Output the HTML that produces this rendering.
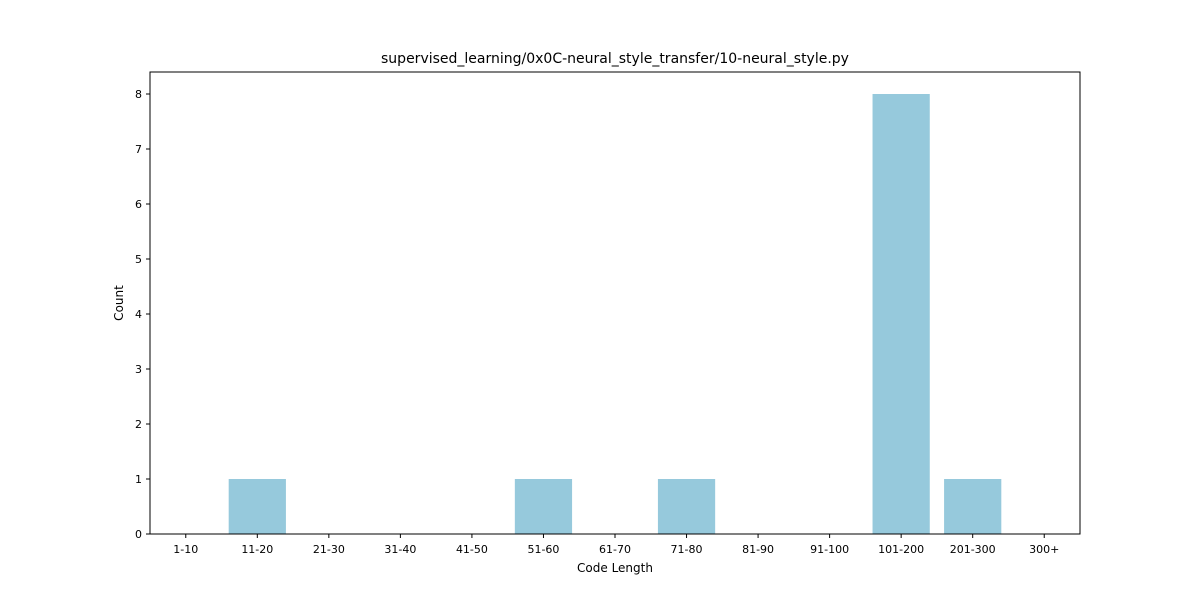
<!DOCTYPE html>
<html><head><meta charset="utf-8"><style>body{margin:0;background:#fff}svg{display:block}text{font-family:"DejaVu Sans","Liberation Sans",sans-serif;fill:#000}</style></head>
<body>
<svg id="chart" width="1200" height="600">
<text x="615" y="63" font-size="14" text-anchor="middle">supervised_learning/0x0C-neural_style_transfer/10-neural_style.py</text>
<g id="bars"></g>
<rect x="150" y="72" width="930" height="462" fill="none" stroke="#000" stroke-width="1"/>
<g id="xticks"></g><g id="yticks"></g>
<text x="615" y="572" font-size="12" text-anchor="middle">Code Length</text>
<text transform="translate(123,303) rotate(-90)" font-size="12" text-anchor="middle">Count</text>
</svg>
<script>
const categories=["1-10","11-20","21-30","31-40","41-50","51-60","61-70","71-80","81-90","91-100","101-200","201-300","300+"];
const counts=[0,1,0,0,0,1,0,1,0,0,8,1,0];
const yTicks=[0,1,2,3,4,5,6,7,8];
const L=150,R=1080,T=72,B=534,ymax=8.4;
const ns="http://www.w3.org/2000/svg";
const step=(R-L)/categories.length;
const x=i=>L+(i+0.5)*step;
const y=v=>B-v/ymax*(B-T);
function mk(t,a,p){const e=document.createElementNS(ns,t);for(const k in a)e.setAttribute(k,a[k]);document.getElementById(p).appendChild(e);return e;}
categories.forEach((c,i)=>{
 if(counts[i]>0){const r=mk("rect",{x:x(i)-step*0.4,y:y(counts[i]),width:step*0.8,height:B-y(counts[i]),fill:"#96c9dc"},"bars");
 
 }
 mk("line",{x1:x(i),x2:x(i),y1:B,y2:B+4,stroke:"#000"},"xticks");
 const t=mk("text",{x:x(i),y:B+19,"font-size":"11","text-anchor":"middle"},"xticks");t.textContent=c;
 
 
});
yTicks.forEach(v=>{
 mk("line",{x1:L-4,x2:L,y1:y(v),y2:y(v),stroke:"#000"},"yticks");
 const t=mk("text",{x:L-8,y:y(v)+4,"font-size":"11","text-anchor":"end"},"yticks");t.textContent=v;
 
 
});
</script>
</body></html>
